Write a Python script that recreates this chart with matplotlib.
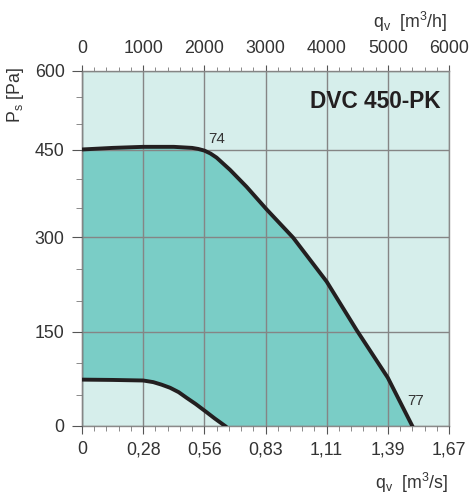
import numpy as np
import matplotlib
matplotlib.use("Agg")
import matplotlib.pyplot as plt

# fan curve, flow in m3/h, static pressure in Pa
upper_q = [0, 500, 1000, 1500, 1800, 1900, 2000, 2100, 2200, 2420, 2690, 3020, 3450, 4000, 4490, 5000, 5400]
upper_p = [451, 454, 456, 456, 454, 452, 449, 444, 437, 416, 387, 348, 300, 230, 153, 77, 0]
lower_q = [0, 500, 1000, 1165, 1300, 1440, 1580, 1710, 1860, 2010, 2170, 2340]
lower_p = [74, 73.5, 72.6, 70, 66, 61, 54, 45, 35, 24, 12, 0]

top_ticks = [0, 1000, 2000, 3000, 4000, 5000, 6000]
bottom_labels = ["0", "0,28", "0,56", "0,83", "1,11", "1,39", "1,67"]
y_ticks = [0, 150, 300, 450, 600]
model = "DVC 450-PK"

plt.rcParams["font.family"] = ["Liberation Sans", "DejaVu Sans"]
plt.rcParams["mathtext.fontset"] = "custom"
plt.rcParams["mathtext.rm"] = "Liberation Sans"
plt.rcParams["mathtext.it"] = "Liberation Sans"

# the pressure axis of the original is not quite linear
p_knots = [-600, 0, 150, 300, 450, 600, 1200]
h_knots = [-355, 0, 94, 188.5, 276, 355, 710]

def fwd(v):
    return np.interp(v, p_knots, h_knots)

def inv(v):
    return np.interp(v, h_knots, p_knots)

fig = plt.figure(figsize=(4.7, 4.99), dpi=100)
ax = fig.add_axes([82 / 470, 1 - 426 / 499, 367 / 470, 355 / 499])
ax.set_yscale("function", functions=(fwd, inv))
ax.set_facecolor("#d6eeeb")

poly_q = upper_q + lower_q[::-1]
poly_p = upper_p + lower_p[::-1]
ax.fill(poly_q, poly_p, color="#7acdc6", zorder=1, lw=0)
ax.plot(upper_q, upper_p, color="#231f20", lw=2.8, zorder=3, solid_joinstyle="round")
ax.plot(lower_q, lower_p, color="#231f20", lw=2.8, zorder=3, solid_joinstyle="round")

ax.set_xlim(0, 6000)
ax.set_ylim(0, 600)
ax.set_xticks(top_ticks)
ax.set_xticklabels(bottom_labels)
ax.set_xticks(np.arange(0, 6001, 200), minor=True)
ax.set_yticks(y_ticks)
ax.set_yticks(np.arange(0, 601, 50), minor=True)

ax.set_axisbelow(False)
ax.grid(True, which="major", color="#858585", lw=1.0)

for s in ["top", "right", "bottom"]:
    ax.spines[s].set_color("#8a8a8a")
    ax.spines[s].set_linewidth(1.0)
ax.spines["left"].set_color("#444444")
ax.spines["left"].set_linewidth(1.0)

ax.tick_params(axis="x", which="major", direction="out", length=6, width=0.8,
               color="#555555", labelsize=12.8, labelcolor="#333333", pad=5)
ax.tick_params(axis="x", which="minor", direction="out", length=3.5, width=0.6, color="#777777")
ax.tick_params(axis="y", which="major", direction="out", length=7.5, width=0.8,
               color="#555555", labelsize=12.8, labelcolor="#333333", pad=5)
ax.tick_params(axis="y", which="minor", direction="out", length=4, width=0.6, color="#777777")

top = ax.secondary_xaxis("top")
top.set_xticks(top_ticks)
top.set_xticks(np.arange(0, 6001, 200), minor=True)
top.spines["top"].set_visible(False)
top.tick_params(axis="x", which="major", direction="out", length=4, width=0.8,
                color="#555555", labelsize=12.8, labelcolor="#333333", pad=6)
top.tick_params(axis="x", which="minor", direction="out", length=3, width=0.6, color="#777777")

ax.text(2060, 457, "74", fontsize=11, color="#333333", ha="left", va="bottom", zorder=4)
ax.text(5320, 28, "77", fontsize=11, color="#333333", ha="left", va="bottom", zorder=4)
ax.text(0.977, 0.913, model, transform=ax.transAxes, fontsize=16.3, fontweight="bold",
        color="#231f20", ha="right", va="center", zorder=4)

fig.text(447 / 470, 1 - 22 / 499, r"q$_\mathregular{v}$  [m$^3$/h]", fontsize=12.8,
         color="#333333", ha="right", va="center")
fig.text(448 / 470, 1 - 483 / 499, r"q$_\mathregular{v}$  [m$^3$/s]", fontsize=12.8,
         color="#333333", ha="right", va="center")
fig.text(16 / 470, 1 - 95 / 499, r"P$_\mathregular{s}$ [Pa]", fontsize=12.8, rotation=90,
         color="#333333", ha="center", va="center")

fig.savefig("out.png", dpi=100)
